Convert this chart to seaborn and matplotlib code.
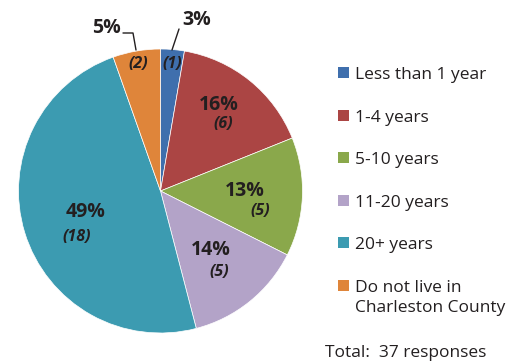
import matplotlib
matplotlib.use("Agg")
import matplotlib.pyplot as plt
import seaborn as sns
from matplotlib.patches import Rectangle

sns.set_theme(style="white")
plt.rcParams['font.family'] = ['Open Sans', 'DejaVu Sans']

categories = ["Less than 1 year", "1-4 years", "5-10 years", "11-20 years",
              "20+ years", "Do not live in\nCharleston County"]
counts = [1, 6, 5, 5, 18, 2]
percents = ["3%", "16%", "13%", "14%", "49%", "5%"]
total_label = "Total:  37 responses"
colors = sns.color_palette(["#3f6fad", "#ab4544", "#8aa84b", "#b3a3c8", "#3c9bb1", "#df853a"])

W, H = 529, 362
CX, CY, R = 160.5, 191.0, 142.0
fig = plt.figure(figsize=(W / 100, H / 100), dpi=100)
ax = fig.add_axes([(CX - R) / W, (H - CY - R) / H, 2 * R / W, 2 * R / H])
wedges, _ = ax.pie(counts, colors=colors, startangle=90, counterclock=False,
                   wedgeprops=dict(edgecolor="white", linewidth=0.5))
ax.set_xlim(-1, 1)
ax.set_ylim(-1, 1)
ax.set_aspect("equal")

def d(px, py):
    return ((px - CX) / R, (CY - py) / R)

def f(px, py):
    return (px / W, 1 - py / H)

pct_pos = [(197, 20), (219, 105), (245, 191), (211, 250), (86, 212), (106, 28)]
cnt_pos = [(172, 64), (223, 124), (260, 211), (219, 272), (77, 237), (138, 64)]
txtc = "#231f20"
for p, c, pp, cp in zip(percents, counts, pct_pos, cnt_pos):
    ax.text(*d(*pp), p, ha="center", va="center", fontsize=14, fontweight="bold",
            color=txtc, clip_on=False)
    ax.text(*d(*cp), f"({c})", ha="center", va="center", fontsize=11.5,
            fontweight="bold", fontstyle="italic", color=txtc, clip_on=False)

# leader lines
x1, y1 = d(179, 29); x2, y2 = d(172, 50)
ax.plot([x1, x2], [y1, y2], color=txtc, lw=1, clip_on=False)
xa, ya = d(123, 33); xb, yb = d(133, 33); xc, yc = d(136, 50)
ax.plot([xa, xb, xc], [ya, yb, yc], color=txtc, lw=1, clip_on=False)

# legend (drawn manually so that the swatch aligns with the first text line)
for i, (cat, col) in enumerate(zip(categories, colors)):
    top = 67 + 42.6 * i
    fx, fy = f(338, top + 11)
    fig.add_artist(Rectangle((fx, fy), 11 / W, 11 / H, transform=fig.transFigure,
                             facecolor=col, edgecolor="none"))
    for j, line in enumerate(cat.split("\n")):
        fig.text(*f(355, top + 12 + 20 * j), line, ha="left", va="baseline",
                 fontsize=12.5, color=txtc)

fig.text(*f(325, 357), total_label, ha="left", va="baseline",
         fontsize=12.5, color=txtc)

fig.savefig("out.png", dpi=100)
